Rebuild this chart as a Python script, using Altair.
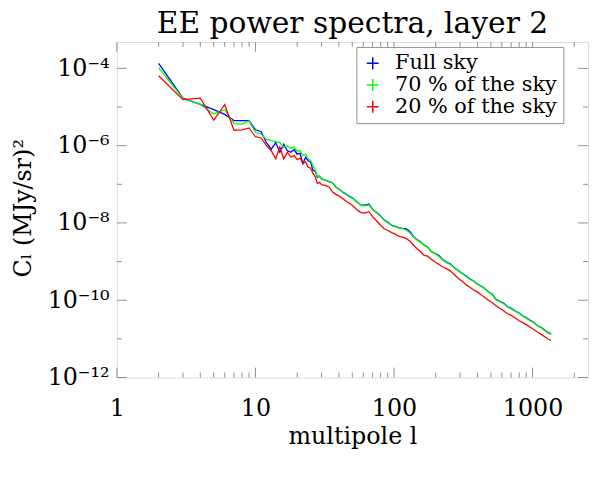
import altair as alt
import pandas as pd

# multipole values (x) shared by the three spectra
ELL = [2, 3, 4, 5, 6, 7, 8, 9, 10, 11, 12, 13, 14, 15, 16, 17, 18, 19, 20, 21,
       22, 23, 24, 25, 26, 27, 28, 29, 30, 32, 34, 36, 38, 40, 43, 46, 50, 54,
       58, 62, 66, 70, 75, 80, 85, 90, 96, 102, 108, 115, 122, 130, 138, 146,
       155, 165, 175, 186, 198, 210, 225, 240, 255, 270, 290, 310, 330, 350,
       375, 400, 425, 450, 480, 510, 545, 580, 620, 660, 700, 750, 800, 850,
       900, 960, 1020, 1090, 1160, 1240, 1300, 1360]

FULL_SKY = [1.35e-4, 1.70e-5, 1.17e-5, 8.51e-6, 6.46e-6, 4.47e-6, 4.47e-6, 4.47e-6,
            2.57e-6, 2.29e-6, 1.20e-6, 8.13e-7, 1.20e-6, 6.76e-7, 1.10e-6, 7.41e-7,
            6.76e-7, 7.94e-7, 6.03e-7, 6.31e-7, 3.39e-7, 5.01e-7, 4.07e-7, 3.80e-7,
            2.29e-7, 2.19e-7, 1.51e-7, 1.62e-7, 1.38e-7, 1.29e-7, 1.17e-7, 1.10e-7,
            8.51e-8, 7.59e-8, 6.17e-8, 5.25e-8, 4.47e-8, 3.55e-8, 2.88e-8, 2.88e-8,
            3.09e-8, 2.24e-8, 1.86e-8, 1.51e-8, 1.20e-8, 1.05e-8, 8.71e-9, 8.13e-9,
            7.59e-9, 7.24e-9, 7.08e-9, 6.03e-9, 4.47e-9, 3.72e-9, 3.24e-9, 2.69e-9,
            2.40e-9, 1.82e-9, 1.62e-9, 1.45e-9, 1.12e-9, 9.55e-10, 8.71e-10, 7.08e-10,
            5.89e-10, 5.01e-10, 4.27e-10, 3.63e-10, 3.16e-10, 2.63e-10, 2.34e-10,
            2.04e-10, 1.66e-10, 1.45e-10, 1.05e-10, 9.33e-11, 8.32e-11, 6.76e-11,
            6.17e-11, 5.25e-11, 4.68e-11, 3.89e-11, 3.55e-11, 3.02e-11, 2.69e-11,
            2.19e-11, 1.95e-11, 1.62e-11, 1.45e-11, 1.35e-11]

SKY_70 = [1.05e-4, 1.66e-5, 1.17e-5, 6.61e-6, 8.51e-6, 3.72e-6, 3.63e-6, 4.37e-6,
          2.19e-6, 2.00e-6, 1.45e-6, 1.35e-6, 1.29e-6, 1.20e-6, 8.91e-7, 1.00e-6,
          8.51e-7, 9.33e-7, 7.08e-7, 7.59e-7, 5.50e-7, 6.03e-7, 4.57e-7, 4.17e-7,
          3.02e-7, 2.40e-7, 1.58e-7, 1.66e-7, 1.38e-7, 1.26e-7, 1.15e-7, 1.07e-7,
          8.32e-8, 7.41e-8, 6.03e-8, 5.13e-8, 4.37e-8, 3.47e-8, 2.82e-8, 2.75e-8,
          2.95e-8, 2.19e-8, 1.82e-8, 1.48e-8, 1.17e-8, 1.02e-8, 8.51e-9, 7.94e-9,
          7.41e-9, 7.08e-9, 6.61e-9, 5.62e-9, 4.37e-9, 3.63e-9, 3.16e-9, 2.63e-9,
          2.34e-9, 1.78e-9, 1.58e-9, 1.38e-9, 1.10e-9, 9.33e-10, 8.51e-10, 6.92e-10,
          5.75e-10, 4.90e-10, 4.17e-10, 3.55e-10, 3.09e-10, 2.57e-10, 2.29e-10,
          2.00e-10, 1.62e-10, 1.41e-10, 1.02e-10, 9.12e-11, 8.13e-11, 6.61e-11,
          6.03e-11, 5.13e-11, 4.57e-11, 3.80e-11, 3.47e-11, 2.95e-11, 2.63e-11,
          2.14e-11, 1.91e-11, 1.58e-11, 1.41e-11, 1.29e-11]

SKY_20 = [6.46e-5, 1.55e-5, 1.70e-5, 4.57e-6, 1.15e-5, 2.51e-6, 2.57e-6, 2.88e-6,
          1.70e-6, 1.58e-6, 1.00e-6, 7.41e-7, 4.57e-7, 9.33e-7, 4.57e-7, 6.76e-7,
          5.01e-7, 5.62e-7, 4.37e-7, 4.79e-7, 3.47e-7, 3.80e-7, 2.75e-7, 2.63e-7,
          1.91e-7, 1.58e-7, 1.05e-7, 1.12e-7, 9.77e-8, 9.33e-8, 8.51e-8, 6.31e-8,
          5.50e-8, 5.01e-8, 4.17e-8, 3.47e-8, 2.88e-8, 2.19e-8, 1.82e-8, 1.82e-8,
          1.95e-8, 1.45e-8, 1.12e-8, 8.71e-9, 7.08e-9, 6.46e-9, 5.62e-9, 5.13e-9,
          4.57e-9, 4.27e-9, 3.98e-9, 3.39e-9, 2.69e-9, 2.19e-9, 1.82e-9, 1.45e-9,
          1.38e-9, 1.15e-9, 9.77e-10, 8.51e-10, 7.24e-10, 6.46e-10, 5.75e-10,
          4.79e-10, 3.72e-10, 3.09e-10, 2.57e-10, 2.19e-10, 1.86e-10, 1.62e-10,
          1.38e-10, 1.20e-10, 1.00e-10, 8.71e-11, 7.24e-11, 6.17e-11, 5.25e-11,
          4.47e-11, 4.07e-11, 3.47e-11, 2.95e-11, 2.63e-11, 2.34e-11, 2.00e-11,
          1.74e-11, 1.48e-11, 1.29e-11, 1.10e-11, 9.77e-12, 9.12e-12]

SERIES = ["Full sky", "70 % of the sky", "20 % of the sky"]
COLORS = ["#0000ff", "#00ff00", "#ff0000"]

X_MAJOR = [1, 10, 100, 1000]
X_MINOR = [2, 3, 4, 5, 6, 7, 8, 9, 20, 30, 40, 50, 60, 70, 80, 90,
           200, 300, 400, 500, 600, 700, 800, 900, 2000]
Y_MAJOR = [1e-12, 1e-10, 1e-8, 1e-6, 1e-4]
Y_MINOR = [1e-11, 1e-9, 1e-7, 1e-5]
Y_LABELS = ["10⁻¹²", "10⁻¹⁰", "10⁻⁸", "10⁻⁶", "10⁻⁴"]
TITLE = "EE power spectra, layer 2"

W, H = 476, 339
FONT = "DejaVu Serif"
GRAY = "#909090"

rows = []
for name, vals in zip(SERIES, [FULL_SKY, SKY_70, SKY_20]):
    for l, c in zip(ELL, vals):
        rows.append({"ell": l, "cl": c, "series": name})
df = pd.DataFrame(rows)

xscale = alt.Scale(type="log", domain=[1, 2512], nice=False)
yscale = alt.Scale(type="log", domain=[1e-12, 4.82e-4], nice=False)

# label expression for y axis built from the label list
expr = "'" + Y_LABELS[-1] + "'"
for v, lab in reversed(list(zip(Y_MAJOR[:-1], Y_LABELS[:-1]))):
    expr = f"datum.value < {v * 3:.0e} ? '{lab}' : " + expr

xaxis = alt.Axis(values=X_MAJOR, format="d", grid=False, ticks=False, tickSize=0,
                 domain=False, labelFont=FONT, labelFontSize=24, labelColor="black",
                 labelBaseline="alphabetic", labelPadding=38, labelFlush=False,
                 title="multipole l", titleFont=FONT, titleFontSize=24,
                 titleFontWeight="normal", titleColor="black",
                 titleBaseline="alphabetic", titleY=67, titleX=W / 2)
yaxis = alt.Axis(values=Y_MAJOR, labelExpr=expr, grid=False, ticks=False, tickSize=0,
                 domain=False, labelFont=FONT, labelFontSize=24, labelColor="black",
                 labelPadding=8, labelFlush=False,
                 title="Cₗ (MJy/sr)²", titleFont=FONT, titleFontSize=24,
                 titleFontWeight="normal", titleColor="black", titleAngle=-90,
                 titleBaseline="alphabetic", titleX=-87, titleY=H / 2 - 2,
                 titleAlign="center")

legend = alt.Legend(title=None, orient="none", legendX=242, legendY=5,
                    direction="vertical", strokeColor=GRAY, fillColor="white",
                    padding=6, symbolType="M-1,0H1M0,-1V1", symbolSize=144,
                    symbolStrokeWidth=1.5, labelFont=FONT, labelFontSize=21,
                    labelColor="black", labelOffset=12, rowPadding=0,
                    labelLimit=400)

color = alt.Color("series:N", scale=alt.Scale(domain=SERIES, range=COLORS),
                  legend=legend)

X_ENC = dict(scale=xscale, axis=xaxis)
Y_ENC = dict(scale=yscale, axis=yaxis)

layers = []
for name in SERIES:
    layers.append(
        alt.Chart(df).transform_filter(alt.datum.series == name)
        .mark_line(strokeWidth=1.3, clip=True)
        .encode(x=alt.X("ell:Q", **X_ENC), y=alt.Y("cl:Q", **Y_ENC), color=color)
    )

xt_major = pd.DataFrame({"v": X_MAJOR})
xt_minor = pd.DataFrame({"v": X_MINOR})
yt_major = pd.DataFrame({"v": Y_MAJOR})
yt_minor = pd.DataFrame({"v": Y_MINOR})


def xticks(data, length):
    bottom = alt.Chart(data).mark_rule(color=GRAY, strokeWidth=1).encode(
        x=alt.X("v:Q", **X_ENC), y=alt.value(H), y2=alt.value(H - length))
    top = alt.Chart(data).mark_rule(color=GRAY, strokeWidth=1).encode(
        x=alt.X("v:Q", **X_ENC), y=alt.value(0), y2=alt.value(length))
    return [bottom, top]


def yticks(data, length):
    left = alt.Chart(data).mark_rule(color=GRAY, strokeWidth=1).encode(
        y=alt.Y("v:Q", **Y_ENC), x=alt.value(0), x2=alt.value(length))
    right = alt.Chart(data).mark_rule(color=GRAY, strokeWidth=1).encode(
        y=alt.Y("v:Q", **Y_ENC), x=alt.value(W), x2=alt.value(W - length))
    return [left, right]


ticks = xticks(xt_major, 10) + xticks(xt_minor, 5) + yticks(yt_major, 10) + yticks(yt_minor, 5)

title_layer = alt.Chart(pd.DataFrame({"t": [TITLE]})).mark_text(
    font=FONT, fontSize=30, baseline="alphabetic", align="center", color="black"
).encode(text="t:N", x=alt.value(W / 2), y=alt.value(-9))

chart = alt.layer(*layers, *ticks, title_layer).properties(
    width=W, height=H,
    autosize=alt.AutoSizeParams(type="none"),
    padding={"left": 110, "top": 32, "right": 2, "bottom": 80},
).configure_view(stroke=GRAY, strokeWidth=1).configure(background="white")

chart.save("out.html", embed_options={"renderer": "svg", "actions": False})
